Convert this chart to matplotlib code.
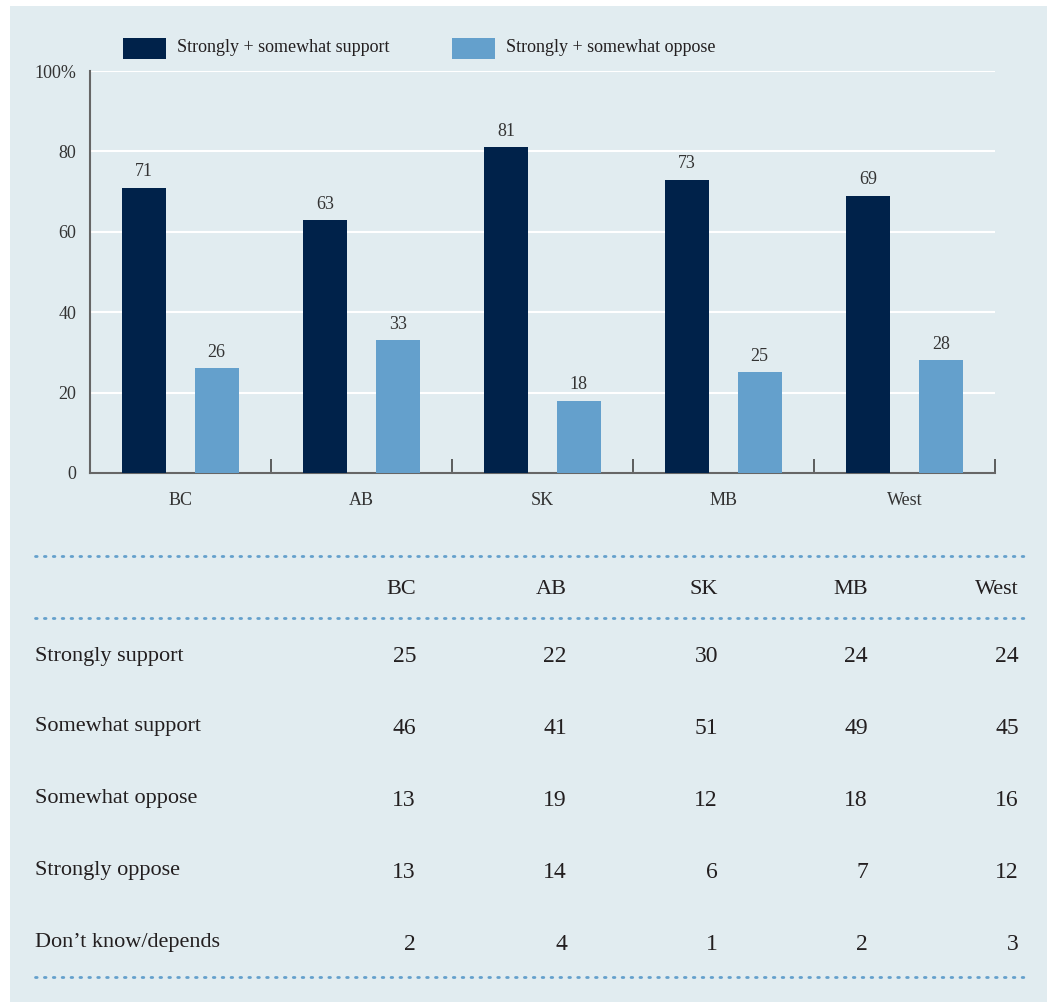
import matplotlib.pyplot as plt
from matplotlib.patches import Rectangle
from matplotlib.lines import Line2D
import numpy as np

# Data
regions = ["BC", "AB", "SK", "MB", "West"]
support = [71, 63, 81, 73, 69]
oppose = [26, 33, 18, 25, 28]
legend_labels = ["Strongly + somewhat support", "Strongly + somewhat oppose"]

row_labels = ["Strongly support", "Somewhat support", "Somewhat oppose",
              "Strongly oppose", "Don\u2019t know/depends"]
strongly_support = [25, 22, 30, 24, 24]
somewhat_support = [46, 41, 51, 49, 45]
somewhat_oppose = [13, 19, 12, 18, 16]
strongly_oppose = [13, 14, 6, 7, 12]
dont_know = [2, 4, 1, 2, 3]
table_rows = [strongly_support, somewhat_support, somewhat_oppose,
              strongly_oppose, dont_know]

# Style
W, H = 1047, 1002
bg = "#e1ecf0"
dark = "#00224a"
light = "#64a0cc"
txt = "#231f20"
plt.rcParams['font.family'] = ['Liberation Serif', 'DejaVu Serif']

fig = plt.figure(figsize=(W / 100, H / 100), dpi=100)
fig.patch.set_facecolor("white")
fig.add_artist(Rectangle((10 / W, 0), 1 - 10 / W, 1 - 6 / H,
                         transform=fig.transFigure, facecolor=bg,
                         edgecolor="none", zorder=0))

def fx(px):
    return px / W

def fy(py):
    return 1 - py / H

ax = fig.add_axes([fx(90), fy(473), fx(995) - fx(90), fy(71) - fy(473)])
ax.set_facecolor(bg)

x = np.arange(len(regions))
off, bw = 0.2, 0.243
b1 = ax.bar(x - off, support, bw, color=dark, zorder=3)
b2 = ax.bar(x + off, oppose, bw, color=light, zorder=3)
for bars, vals in ((b1, support), (b2, oppose)):
    for r, v in zip(bars, vals):
        ax.text(r.get_x() + r.get_width() / 2, v + 1.8, str(v), ha="center",
                va="bottom", fontsize=13, color="#333333")

ax.set_xlim(-0.5, 4.5)
ax.set_ylim(0, 100)
ax.set_yticks([0, 20, 40, 60, 80, 100])
ax.set_yticklabels(["0", "20", "40", "60", "80", "100%"], fontsize=13,
                   color="#333333")
ax.tick_params(axis="y", length=0, pad=10)
ax.yaxis.grid(True, color="white", linewidth=1.5, zorder=1)
ax.set_xticks(x)
ax.set_xticklabels(regions, fontsize=13, color="#333333")
ax.tick_params(axis="x", which="major", length=0, pad=14)
ax.set_xticks(np.arange(0.5, 5, 1), minor=True)
ax.tick_params(axis="x", which="minor", direction="in", length=10,
               width=1.2, color="#444444")
for s in ("top", "right"):
    ax.spines[s].set_visible(False)
for s in ("left", "bottom"):
    ax.spines[s].set_color("#666666")
    ax.spines[s].set_linewidth(1.5)

# Legend
for (lx, tx), lab, col in zip(((123, 177), (452, 506)), legend_labels,
                              (dark, light)):
    fig.add_artist(Rectangle((fx(lx), fy(59)), fx(43), 21 / H,
                             transform=fig.transFigure, facecolor=col,
                             edgecolor="none"))
    fig.text(fx(tx), fy(48), lab, fontsize=13, color=txt, va="center")

# Table
for ly in (556, 618, 977):
    fig.add_artist(Line2D([fx(35), fx(1027)], [fy(ly), fy(ly)],
                          transform=fig.transFigure, color=light,
                          linewidth=2, linestyle=(0, (0.6, 2.6)),
                          dash_capstyle="round"))

col_right = [416, 567, 718, 868, 1019]
for cx, name in zip(col_right, regions):
    fig.text(fx(cx), fy(589), name, ha="right", va="center",
             fontsize=16, color=txt)

row_y = [656, 727, 799, 871, 943]
for ry, lab, vals in zip(row_y, row_labels, table_rows):
    fig.text(fx(35), fy(ry), lab, ha="left", va="center", fontsize=16,
             color=txt)
    for cx, v in zip(col_right, vals):
        fig.text(fx(cx), fy(ry + 1), str(v), ha="right", va="center",
                 fontsize=17, color=txt)

fig.savefig("out.png", dpi=100, facecolor=fig.get_facecolor())
